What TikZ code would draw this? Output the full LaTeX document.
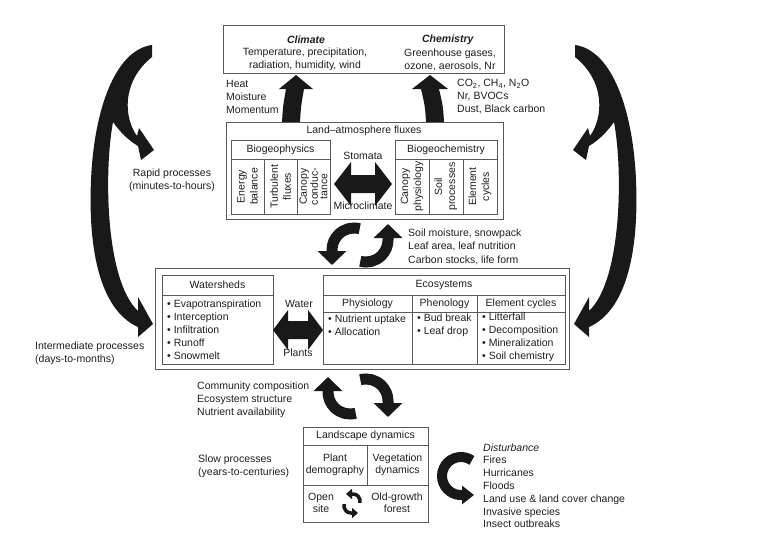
\documentclass[tikz,border=0pt]{standalone}
\usepackage{fontspec}
\setmainfont{Liberation Sans}
\usetikzlibrary{arrows.meta}

\tikzset{
  box/.style={draw=black!65, line width=0.8pt, inner sep=0pt},
  cell/.style={box, align=center},
  fatarrow/.style={fill=black!90},
  cycarrow/.style={draw=black!90, line width=11pt, -{Triangle[width=28pt,length=14pt]}},
  distarrow/.style={draw=black!90, line width=10pt, -{Triangle[width=18pt,length=12pt]}},
  smallcyc/.style={draw=black!90, line width=3.5pt, -{Triangle[width=10pt,length=6pt]}},
}

% forked arrow of the time scales (left one; the right one is its mirror image)
\newcommand{\timearrowpath}{(152,45) .. controls (115,50) and (94,110) .. (91,180)
  .. controls (88,250) and (100,310) .. (138,327) -- (138,337) -- (153,324) -- (138,297)
  -- (138,311) .. controls (105,280) and (104,170) .. (113,122)
  .. controls (120,132) and (128,140) .. (138,146) -- (141,160) -- (154,150) -- (139,128)
  -- (137,136) .. controls (124,118) and (121,82) .. (152,57) -- cycle}

\begin{document}
\begin{tikzpicture}[x=1pt, y=-1pt,
  every node/.style={font=\fontsize{10.5}{13}\selectfont, inner sep=0pt, text=black!88}]
\useasboundingbox (0,0) rectangle (765,535);

% atmosphere
\node[box, minimum width=281pt, minimum height=48pt] (atmos) at (363.5,49) {};
\node (climate) at (306,40) {\textbf{\textit{Climate}}};
\node[align=center] (climtext) at (305,59.5) {Temperature, precipitation,\\radiation, humidity, wind};
\node (chem) at (448,40) {\textbf{\textit{Chemistry}}};
\node[align=center] (chemtext) at (450,59.5) {Greenhouse gases,\\ozone, aerosols, Nr};

\fill[fatarrow] (282,122) .. controls (283,106) .. (286,89) -- (279,89) -- (296,75)
  -- (313,89) -- (304,89) .. controls (301,106) .. (300,122) -- cycle;
\fill[fatarrow] (426,122) .. controls (425,106) .. (421,89) -- (412,89) -- (430,75)
  -- (448,89) -- (439,89) .. controls (443,106) .. (444,122) -- cycle;
\node[anchor=west, align=left] (physflux) at (226,97) {Heat\\Moisture\\Momentum};
\node[anchor=west, align=left] (chemflux) at (457,97) {CO\textsubscript{2}, CH\textsubscript{4}, N\textsubscript{2}O\\Nr, BVOCs\\Dust, Black carbon};

% land-atmosphere fluxes
\node[box, minimum width=277pt, minimum height=97pt] (landatm) at (364.5,170.5) {};
\node (latitle) at (364,131) {Land--atmosphere fluxes};
\node[cell, minimum width=99pt, minimum height=19pt] (bgphys) at (280.5,149.5) {Biogeophysics};
\node[cell, rotate=90, minimum width=55pt, minimum height=33pt] (energy) at (247.5,186.5) {Energy\\balance};
\node[cell, rotate=90, minimum width=55pt, minimum height=33pt] (turb) at (280.5,186.5) {Turbulent\\fluxes};
\node[cell, rotate=90, minimum width=55pt, minimum height=33pt, font=\fontsize{10.5}{9.5}\selectfont] (cond) at (313.5,186.5) {Canopy\\conduc-\\tance};
\node[cell, minimum width=102pt, minimum height=19pt] (bgchem) at (446,149.5) {Biogeochemistry};
\node[cell, rotate=90, minimum width=55pt, minimum height=34pt] (canphys) at (412,186.5) {Canopy\\physiology};
\node[cell, rotate=90, minimum width=55pt, minimum height=34pt] (soilproc) at (446,186.5) {Soil\\processes};
\node[cell, rotate=90, minimum width=55pt, minimum height=34pt] (elcyc) at (480,186.5) {Element\\cycles};
\node (stomata) at (363,156) {Stomata};
\node (microcl) at (363,206) {Microclimate};
\fill[fatarrow] (334,184) -- (351,162) -- (351,175) -- (375,175) -- (375,162) -- (392,184)
  -- (375,206) -- (375,193) -- (351,193) -- (351,206) -- cycle;

\draw[cycarrow] (354,250) ++(-75:22) arc[start angle=-75, end angle=-180, radius=22] -- ++(0,15);
\draw[cycarrow] (366,240) ++(105:22) arc[start angle=105, end angle=0, radius=22] -- ++(0,-16);
\node[anchor=west, align=left, font=\fontsize{10.5}{13.5}\selectfont] (feedup) at (408,246.5) {Soil moisture, snowpack\\Leaf area, leaf nutrition\\Carbon stocks, life form};

% watersheds and ecosystems
\node[box, minimum width=414pt, minimum height=101pt] (middle) at (362,318.5) {};
\node[cell, minimum width=111pt, minimum height=20pt] (wshead) at (217.5,285) {Watersheds};
\node[box, minimum width=111pt, minimum height=69pt] (wslist) at (217.5,329.5) {};
\node[anchor=west, align=left] (wsitems) at (167,330) {\textbullet\ Evapotranspiration\\\textbullet\ Interception\\\textbullet\ Infiltration\\\textbullet\ Runoff\\\textbullet\ Snowmelt};
\node (water) at (299,304) {Water};
\node (plants) at (298,353) {Plants};
\fill[fatarrow] (273,330) -- (288,310) -- (288,321) -- (308,321) -- (308,310) -- (323,330)
  -- (308,350) -- (308,339) -- (288,339) -- (288,350) -- cycle;

\node[cell, minimum width=242pt, minimum height=20pt] (ecohead) at (444,285) {Ecosystems};
\node[cell, minimum width=89pt, minimum height=17pt] (physio) at (367.5,303.5) {Physiology};
\node[cell, minimum width=65pt, minimum height=17pt] (pheno) at (444.5,303.5) {Phenology};
\node[cell, minimum width=88pt, minimum height=17pt] (elem) at (521,303.5) {Element cycles};
\node[box, minimum width=89pt, minimum height=52pt] (physiolist) at (367.5,338) {};
\node[box, minimum width=65pt, minimum height=52pt] (phenolist) at (444.5,338) {};
\node[box, minimum width=88pt, minimum height=52pt] (elemlist) at (521,338) {};
\node[anchor=west, align=left] (physioitems) at (328,325.5) {\textbullet\ Nutrient uptake\\\textbullet\ Allocation};
\node[anchor=west, align=left] (phenoitems) at (417,325.5) {\textbullet\ Bud break\\\textbullet\ Leaf drop};
\node[anchor=west, align=left] (elemitems) at (482,337.5) {\textbullet\ Litterfall\\\textbullet\ Decomposition\\\textbullet\ Mineralization\\\textbullet\ Soil chemistry};

\draw[cycarrow] (350,392) ++(75:22) arc[start angle=75, end angle=180, radius=22] -- ++(0,-15);
\draw[cycarrow] (366,401) ++(-105:22) arc[start angle=-105, end angle=0, radius=22] -- ++(0,16);
\node[anchor=west, align=left] (feeddown) at (197,399.5) {Community composition\\Ecosystem structure\\Nutrient availability};

% landscape
\node[cell, minimum width=125pt, minimum height=18pt] (lshead) at (365.5,436) {Landscape dynamics};
\node[cell, minimum width=64pt, minimum height=40pt, font=\fontsize{10.5}{12.5}\selectfont] (demog) at (335,465) {Plant\\demography};
\node[cell, minimum width=61pt, minimum height=40pt, font=\fontsize{10.5}{12.5}\selectfont] (vegdyn) at (397.5,465) {Vegetation\\dynamics};
\node[box, minimum width=125pt, minimum height=37pt] (succ) at (365.5,503.5) {};
\node[align=center, font=\fontsize{10.5}{12}\selectfont] (opensite) at (321,502.5) {Open\\site};
\node[align=center, font=\fontsize{10.5}{12}\selectfont] (oldgrowth) at (397,502.5) {Old-growth\\forest};
\draw[smallcyc] (353,501) ++(15:7) arc[start angle=15, end angle=-90, radius=7] -- ++(-7,0);
\draw[smallcyc] (351,506) ++(195:7) arc[start angle=195, end angle=90, radius=7] -- ++(7,0);

\draw[distarrow] (461,476) ++(-55:19) arc[start angle=-55, end angle=-270, radius=19] -- ++(13,0);
\node[anchor=west, align=left, font=\fontsize{10.5}{12.8}\selectfont] (disturb) at (483,485.7) {\textit{Disturbance}\\Fires\\Hurricanes\\Floods\\Land use \& land cover change\\Invasive species\\Insect outbreaks};

% time scales
\fill[fatarrow] \timearrowpath;
\fill[fatarrow, xshift=727pt, xscale=-1] \timearrowpath;
\node[align=center] (rapid) at (172,180.5) {Rapid processes\\(minutes-to-hours)};
\node[anchor=west, align=left] (interm) at (35,353.5) {Intermediate processes\\(days-to-months)};
\node[anchor=west, align=left] (slow) at (198,466.5) {Slow processes\\(years-to-centuries)};
\end{tikzpicture}
\end{document}
